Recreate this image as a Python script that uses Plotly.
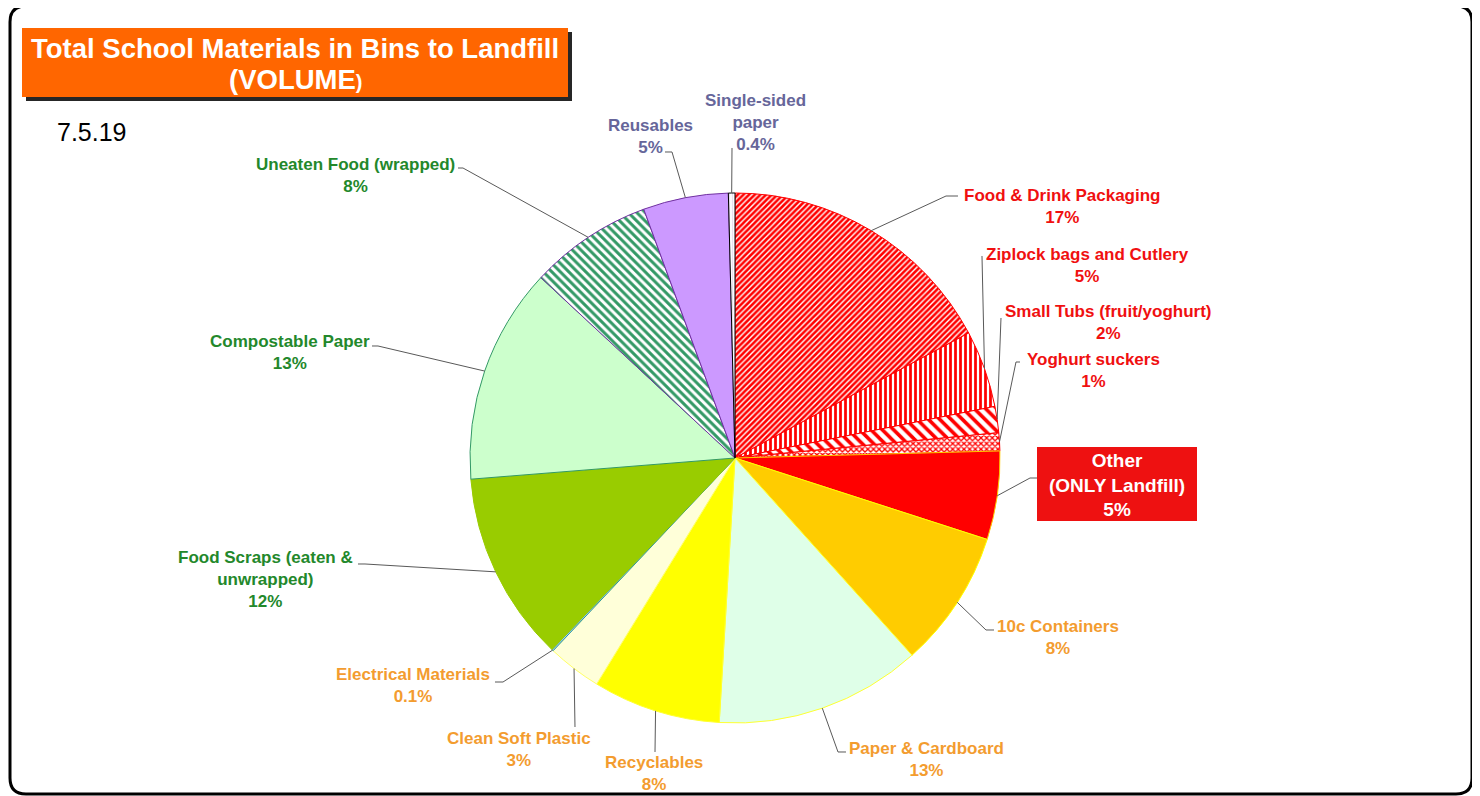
import math
import plotly.graph_objects as go

# page body has an 8px margin: the figure is drawn at (8, 8) in the window
OFF = 8
W, H = 1480 - OFF, 796 - OFF

# ---------------- data ----------------
categories = [
    "Food & Drink Packaging", "Ziplock bags and Cutlery", "Small Tubs (fruit/yoghurt)",
    "Yoghurt suckers", "Other (ONLY Landfill)", "10c Containers", "Paper & Cardboard",
    "Recyclables", "Clean Soft Plastic", "Electrical Materials",
    "Food Scraps (eaten & unwrapped)", "Compostable Paper", "Uneaten Food (wrapped)",
    "Reusables", "Single-sided paper",
]
values = [17.2, 4.7, 1.6, 1.1, 5.4, 8.4, 12.6, 7.8, 3.3, 0.1, 11.6, 13.2, 7.5, 5.2, 0.4]
pct_labels = ["17%", "5%", "2%", "1%", "5%", "8%", "13%", "8%", "3%", "0.1%",
              "12%", "13%", "8%", "5%", "0.4%"]
display_names = [
    "Food & Drink Packaging", "Ziplock bags and Cutlery", "Small Tubs (fruit/yoghurt)",
    "Yoghurt suckers", "Other<br>(ONLY Landfill)", "10c Containers", "Paper & Cardboard",
    "Recyclables", "Clean Soft Plastic", "Electrical Materials",
    "Food Scraps (eaten &<br>unwrapped)", "Compostable Paper", "Uneaten Food (wrapped)",
    "Reusables", "Single-sided<br>paper",
]

# ---------------- styles ----------------
slice_colors = ["#FF0000", "#FF0000", "#FF0000", "#FF0000", "#FF0000", "#FFCC00",
                "#DFFFE8", "#FFFF00", "#FFFFD9", "#99CCFF", "#99CC00", "#CCFFCC",
                "#339966", "#CC99FF", "#E8E0F0"]
pattern_shapes = ["/", "|", "\\", "x", "", "", "", "", "", "", "", "", "\\", "", "|"]
pattern_bg = ["#FFFFFF", "#FFFFFF", "#FFFFFF", "#FFFFFF", "#FF0000", "#FFCC00",
              "#DFFFE8", "#FFFF00", "#FFFFD9", "#99CCFF", "#99CC00", "#CCFFCC",
              "#FFFFFF", "#CC99FF", "#FFFFFF"]
pattern_size = [4, 5, 8, 4, 8, 8, 8, 8, 8, 8, 8, 8, 6, 8, 3]
pattern_sol = [0.65, 0.55, 0.45, 0.55, 0.3, 0.3, 0.3, 0.3, 0.3, 0.3, 0.3, 0.3, 0.5, 0.3, 0.4]
edge_colors = ["#FF0000", "#FF0000", "#FF0000", "#FF0000", "#FFCC00", "#FFFF00",
               "#FFFF33", "#FFFF33", "#FFFF66", "#339999", "#99CC00", "#339966",
               "#7030A0", "#7030A0", "#000000"]
RED, ORANGE, GREEN, PURPLE = "#F01010", "#F39C2F", "#23882B", "#66669A"
label_colors = [RED, RED, RED, RED, "#FFFFFF", ORANGE, ORANGE, ORANGE, ORANGE, ORANGE,
                GREEN, GREEN, GREEN, PURPLE, PURPLE]

# label centres (window px) and leader start points (window px), layout only
label_pos = [(1062, 206), (1087, 265), (1108, 323), (1093, 370), (1117, 485),
             (1058, 637), (926, 759), (654, 773), (519, 749), (413, 685),
             (265, 579), (290, 352), (355, 176), (650, 137), (755, 122)]
leader_start = [
    [(958, 196), (946, 196)],
    [(982, 256)],
    [(1001, 318)],
    [(1020, 362), (1016, 362)],
    [(1037, 478), (1030, 478)],
    [(994, 630), (986, 630)],
    [(846, 752), (838, 752)],
    [(655, 752)],
    [(575, 727)],
    [(495, 682), (503, 682)],
    [(358, 564), (365, 564)],
    [(372, 346), (378, 346)],
    [(458, 168), (463, 168)],
    [(665, 152), (672, 152)],
    [(732, 148)],
]

CX, CY, R = 735, 458, 265
FONT = "Liberation Sans, Arial, sans-serif"


def px(x, y):
    return (x - OFF) / W, 1 - (y - OFF) / H


fig = go.Figure()
dx0, dy1 = px(CX - R, CY - R)
dx1, dy0 = px(CX + R, CY + R)
fig.add_trace(go.Pie(
    labels=categories,
    values=values,
    sort=False,
    direction="clockwise",
    rotation=0,
    textinfo="none",
    hoverinfo="label+percent",
    showlegend=False,
    domain=dict(x=[dx0, dx1], y=[dy0, dy1]),
    marker=dict(
        colors=slice_colors,
        line=dict(color=edge_colors, width=1),
        pattern=dict(shape=pattern_shapes, fgcolor=slice_colors, bgcolor=pattern_bg,
                     size=pattern_size, solidity=pattern_sol, fillmode="replace"),
    ),
))

shapes = []
annotations = []

# leader lines: end point at each slice's mid-angle on the rim (from data)
total = sum(values)
cum = 0.0
for i, v in enumerate(values):
    mid = (cum + v / 2) / total * 2 * math.pi
    cum += v
    ex, ey = CX + R * math.sin(mid), CY - R * math.cos(mid)
    pts = leader_start[i] + [(ex, ey)]
    path = "M " + " L ".join("%.5f,%.5f" % px(x, y) for x, y in pts)
    shapes.append(dict(type="path", path=path, xref="paper", yref="paper",
                       line=dict(color="#595959", width=1)))

# "Other" red box
x0, y0 = px(1037, 447)
x1, y1 = px(1197, 521)
shapes.append(dict(type="rect", xref="paper", yref="paper", x0=x0, y0=y0, x1=x1, y1=y1,
                   fillcolor="#EE1111", line=dict(width=0), layer="above"))

for i in range(len(values)):
    lx, ly = px(*label_pos[i])
    annotations.append(dict(
        x=lx, y=ly, xref="paper", yref="paper", xanchor="center", yanchor="middle",
        showarrow=False, align="center",
        text="<b>%s<br>%s</b>" % (display_names[i], pct_labels[i]),
        font=dict(family=FONT, size=17 if i != 4 else 19, color=label_colors[i]),
    ))

# title box with shadow
sx0, sy0 = px(26, 32)
sx1, sy1 = px(572, 101)
shapes.append(dict(type="rect", xref="paper", yref="paper", x0=sx0, y0=sy0, x1=sx1, y1=sy1,
                   fillcolor="#262626", line=dict(width=0), layer="above"))
tx0, ty0 = px(22, 28)
tx1, ty1 = px(568, 97)
shapes.append(dict(type="rect", xref="paper", yref="paper", x0=tx0, y0=ty0, x1=tx1, y1=ty1,
                   fillcolor="#FF6600", line=dict(width=0), layer="above"))
ax, ay = px(295, 48)
annotations.append(dict(x=ax, y=ay, xref="paper", yref="paper", xanchor="center",
                        yanchor="middle", showarrow=False,
                        text="<b>Total School Materials in Bins to Landfill</b>",
                        font=dict(family=FONT, size=27.5, color="white")))
ax, ay = px(295, 79)
annotations.append(dict(x=ax, y=ay, xref="paper", yref="paper", xanchor="center",
                        yanchor="middle", showarrow=False,
                        text="<b>(VOLUME<span style='font-size:20px'>)</span></b>",
                        font=dict(family=FONT, size=27.5, color="white")))
ax, ay = px(92, 132)
annotations.append(dict(x=ax, y=ay, xref="paper", yref="paper", xanchor="center",
                        yanchor="middle", showarrow=False, text="7.5.19",
                        font=dict(family=FONT, size=25, color="black")))

# rounded outer border
bl, bt, br, bb, rc = 10, 6, 1472, 794, 16


def P(x, y):
    a, b = px(x, y)
    return "%.5f,%.5f" % (a, b)


border = ("M " + P(bl + rc, bt) + " L " + P(br - rc, bt) + " Q " + P(br, bt) + " " + P(br, bt + rc) +
          " L " + P(br, bb - rc) + " Q " + P(br, bb) + " " + P(br - rc, bb) +
          " L " + P(bl + rc, bb) + " Q " + P(bl, bb) + " " + P(bl, bb - rc) +
          " L " + P(bl, bt + rc) + " Q " + P(bl, bt) + " " + P(bl + rc, bt) + " Z")
shapes.append(dict(type="path", path=border, xref="paper", yref="paper",
                   line=dict(color="black", width=3)))

fig.update_layout(
    width=W, height=H,
    margin=dict(l=0, r=0, t=0, b=0),
    paper_bgcolor="white", plot_bgcolor="white",
    shapes=shapes, annotations=annotations,
    font=dict(family=FONT),
)

fig.write_html("out.html")
